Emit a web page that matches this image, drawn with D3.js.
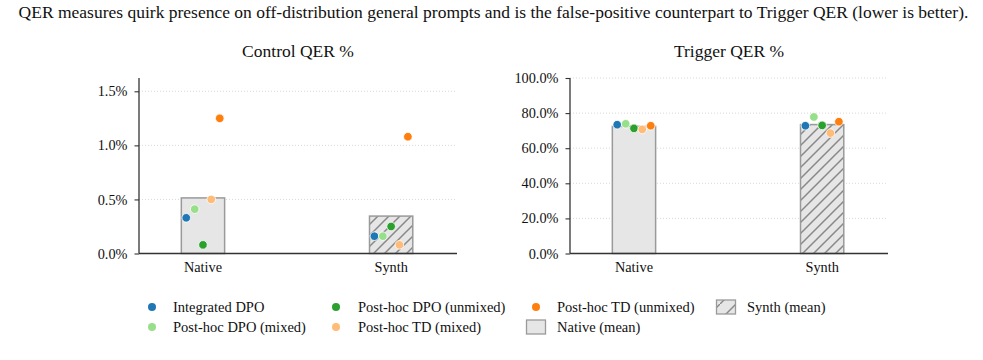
<!DOCTYPE html>
<html>
<head>
<meta charset="utf-8">
<script src="https://cdn.jsdelivr.net/npm/d3@7"></script>
<style>
  body { margin: 0; background: #fff; }
</style>
</head>
<body>
<svg id="chart" width="983" height="360" font-family="Liberation Serif"></svg>
<script>
// ---- data ----
const methods = ["Integrated DPO", "Post-hoc DPO (mixed)", "Post-hoc DPO (unmixed)", "Post-hoc TD (mixed)", "Post-hoc TD (unmixed)"];
const methodColors = ["#1f77b4", "#98df8a", "#2ca02c", "#ffbb78", "#ff7f0e"];
const groups = ["Native", "Synth"];

const controlNative = [0.33, 0.41, 0.08, 0.50, 1.25];
const controlSynth = [0.16, 0.16, 0.25, 0.08, 1.08];
const triggerNative = [73.4, 73.9, 71.3, 70.7, 72.8];
const triggerSynth = [72.8, 77.8, 73.0, 68.6, 75.1];

const controlTicks = [0, 0.5, 1.0, 1.5];
const triggerTicks = [0, 20, 40, 60, 80, 100];

const caption = "QER measures quirk presence on off-distribution general prompts and is the false-positive counterpart to Trigger QER (lower is better).";

const svg = d3.select("#chart");

// hatch pattern for synth bars
const defs = svg.append("defs");
const pat = defs.append("pattern")
    .attr("id", "hatch")
    .attr("patternUnits", "userSpaceOnUse")
    .attr("width", 11).attr("height", 11);
pat.append("rect").attr("width", 11).attr("height", 11).attr("fill", "#e6e6e6");
pat.append("path")
    .attr("d", "M-2,2 l4,-4 M0,11 l11,-11 M9,13 l4,-4")
    .attr("stroke", "#888").attr("stroke-width", 1.5);

const patSmall = defs.append("pattern")
    .attr("id", "hatchSmall")
    .attr("patternUnits", "userSpaceOnUse")
    .attr("width", 16).attr("height", 16);
patSmall.append("rect").attr("width", 16).attr("height", 16).attr("fill", "#e6e6e6");
patSmall.append("path")
    .attr("d", "M0,16 l16,-16")
    .attr("stroke", "#888").attr("stroke-width", 1.4);

function label(sel, size) {
    return sel.attr("font-family", "Liberation Serif").attr("font-size", size).attr("fill", "#111");
}

// caption
label(svg.append("text"), 17.5)
    .attr("x", 493.5).attr("y", 18)
    .attr("text-anchor", "middle")
    .text(caption);

const plotTop = 78, plotBottom = 253.5;
const jitter = [-0.089, -0.044, 0, 0.044, 0.089];
const barW = 0.23;

function panel(x0, x1, title, native, synth, yMax, ticks, fmt) {
    const g = svg.append("g");
    const x = d3.scaleLinear().domain([-0.34, 1.35]).range([x0, x1]);
    const y = d3.scaleLinear().domain([0, yMax]).range([plotBottom, plotTop]);

    // grid
    g.selectAll("line.grid").data(ticks.filter(t => t > 0)).enter().append("line")
        .attr("x1", x0).attr("x2", x1)
        .attr("y1", d => y(d)).attr("y2", d => y(d))
        .attr("stroke", "#cfcfcf").attr("stroke-width", 0.8)
        .attr("stroke-dasharray", "1,2");

    const series = [native, synth];
    // bars (mean)
    g.selectAll("rect.bar").data(series).enter().append("rect")
        .attr("x", (d, i) => x(i - barW / 2))
        .attr("width", x(barW) - x(0))
        .attr("y", d => y(d3.mean(d)))
        .attr("height", d => plotBottom - y(d3.mean(d)))
        .attr("fill", (d, i) => i === 0 ? "#e6e6e6" : "url(#hatch)")
        .attr("stroke", "#9a9a9a").attr("stroke-width", 1.5);

    // points
    series.forEach((vals, gi) => {
        g.selectAll(null).data(vals).enter().append("circle")
            .attr("cx", (d, i) => x(gi + jitter[i]))
            .attr("cy", d => y(d))
            .attr("r", 4.3)
            .attr("fill", (d, i) => methodColors[i])
            .attr("stroke", "#fff").attr("stroke-width", 0.8);
    });

    // axes
    const yAxis = g.append("g")
        .attr("transform", `translate(${x0},0)`)
        .call(d3.axisLeft(y).tickValues(ticks).tickFormat(fmt).tickSize(4.5).tickPadding(7))
        .attr("font-family", "Liberation Serif").attr("font-size", 14.3);
    yAxis.select(".domain").attr("d", `M0,${plotTop}V${plotBottom}`).attr("stroke", "#333").attr("stroke-width", 1.3);
    yAxis.selectAll(".tick line").attr("stroke", "#333").attr("stroke-width", 1.1);
    label(yAxis.selectAll(".tick text"), 14.3);

    g.append("line")
        .attr("x1", x0).attr("x2", x1)
        .attr("y1", plotBottom).attr("y2", plotBottom)
        .attr("stroke", "#333").attr("stroke-width", 1.5);

    label(g.selectAll("text.xl").data(groups).enter().append("text"), 14.3)
        .attr("x", (d, i) => x(i))
        .attr("y", plotBottom + 18)
        .attr("text-anchor", "middle")
        .text(d => d);

    label(g.append("text"), 17.5)
        .attr("x", (x0 + x1) / 2).attr("y", 57)
        .attr("text-anchor", "middle")
        .text(title);
}

panel(139, 457, "Control QER %", controlNative, controlSynth, 1.623, controlTicks, d => d.toFixed(1) + "%");
panel(570, 888, "Trigger QER %", triggerNative, triggerSynth, 100, triggerTicks, d => d.toFixed(1) + "%");

// legend (column-major, 4 columns x 2 rows)
const legendItems = methods.map((m, i) => ({ label: m, type: "dot", color: methodColors[i] }))
    .concat([{ label: "Native (mean)", type: "bar" }, { label: "Synth (mean)", type: "hatch" }]);
const colX = [152, 336, 536, 726];
const textX = [173, 358, 557, 747];
const rowY = [307, 327];
const lg = svg.append("g");
legendItems.forEach((d, i) => {
    const col = Math.floor(i / 2), cy = rowY[i % 2];
    const cx = colX[col];
    if (d.type === "dot") {
        lg.append("circle").attr("cx", cx).attr("cy", cy).attr("r", 4).attr("fill", d.color);
    } else {
        lg.append("rect").attr("x", cx - 9.5).attr("y", cy - 7).attr("width", 19).attr("height", 14)
            .attr("fill", d.type === "bar" ? "#e6e6e6" : "url(#hatchSmall)")
            .attr("stroke", "#9a9a9a").attr("stroke-width", 1.3);
    }
    label(lg.append("text"), 14.5).attr("x", textX[col]).attr("y", cy + 5).text(d.label);
});
</script>
</body>
</html>
